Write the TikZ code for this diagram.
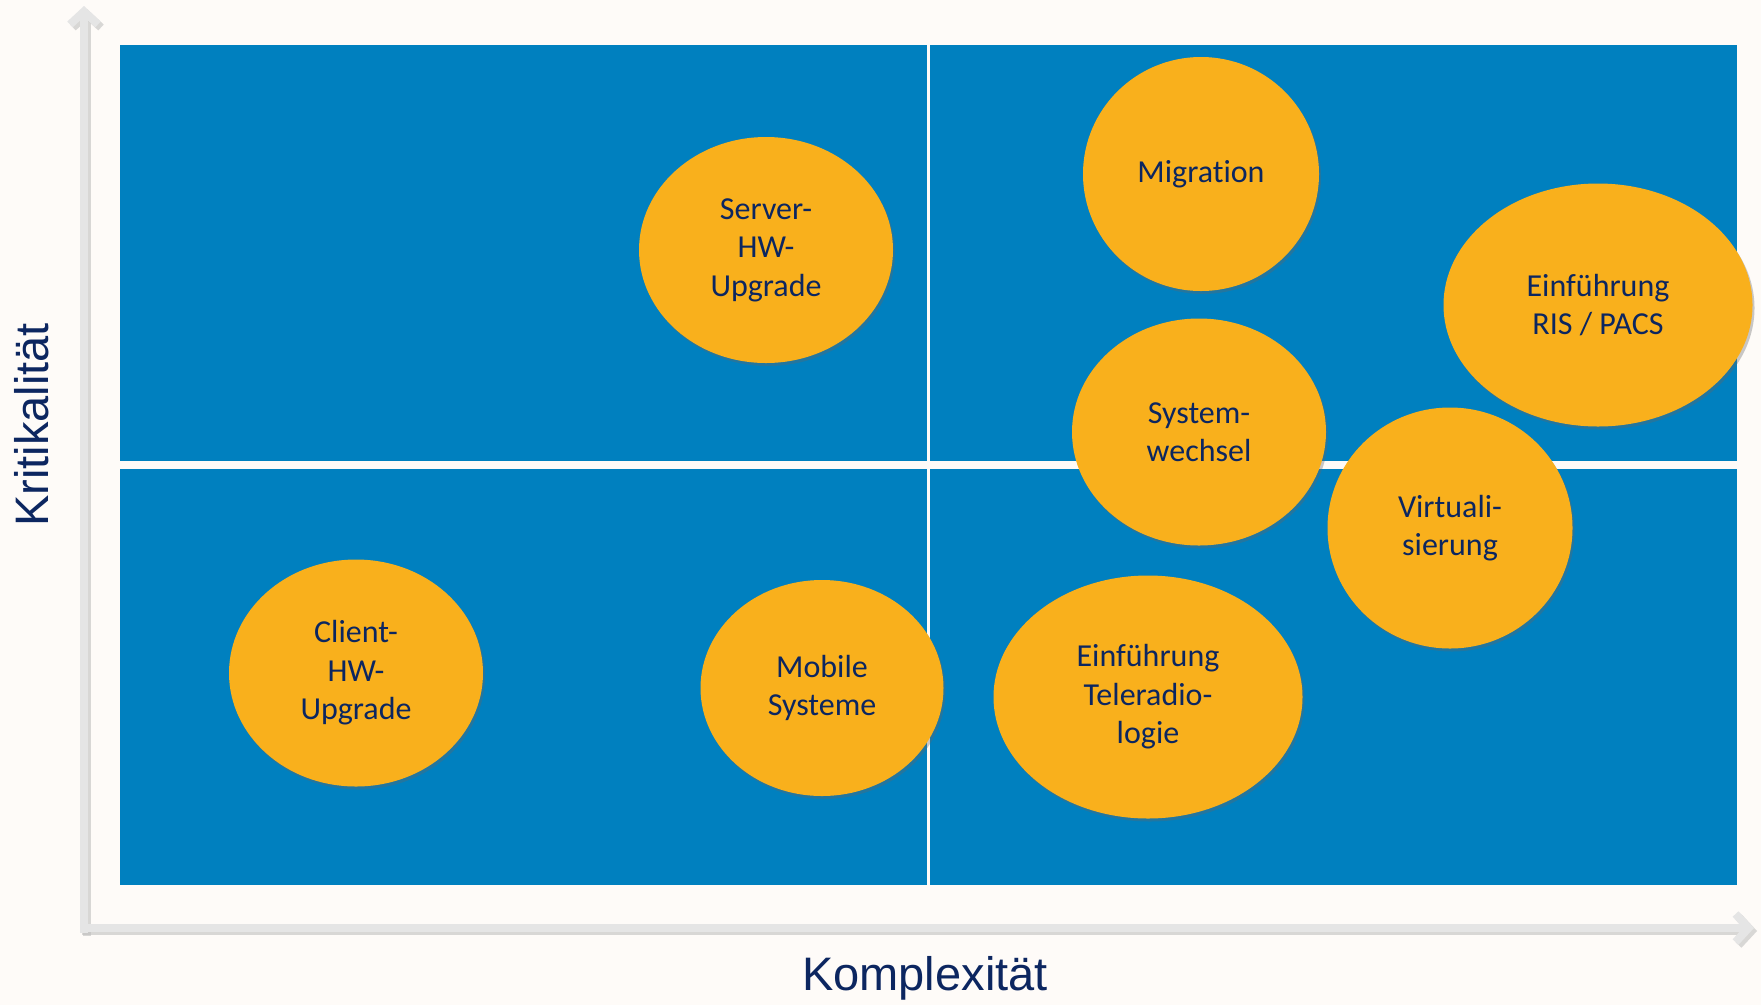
\documentclass[tikz,border=0pt]{standalone}
\usepackage{fontspec}
\setmainfont{Carlito}[Ligatures=NoCommon]
\newfontfamily\axisfont{Liberation Sans}
\usetikzlibrary{arrows.meta,shadows,shapes.geometric}
\definecolor{bgcol}{RGB}{254,251,248}
\definecolor{quadblue}{RGB}{0,128,191}
\definecolor{bubble}{RGB}{249,176,28}
\definecolor{navy}{RGB}{12,38,96}
\definecolor{axisgrey}{RGB}{229,229,229}
\tikzset{
  bubblenode/.style={ellipse, fill=bubble, text=navy, align=center, inner sep=0pt,
    font=\fontsize{32}{38.5}\selectfont,
    drop shadow={shadow xshift=2pt, shadow yshift=-3pt, opacity=0.35, fill=black!60}},
  axisline/.style={line width=8pt, color=axisgrey, -{Straight Barb[length=13pt,width=28pt]}},
  axislabel/.style={text=navy, font=\axisfont\fontsize{47}{50}\selectfont}
}

\begin{document}
\begin{tikzpicture}[x=1pt, y=-1pt]
			%%%%% START %%%%%
			
			\useasboundingbox (0, 0) rectangle (1761, 1005);
			\fill[bgcol] (0, 0) rectangle (1761, 1005);
			
			% axes
			\draw[axisline, color=black!25, opacity=0.6] (87, 936) -- (87, 9);
			\draw[axisline, color=black!25, opacity=0.6] (82, 931) -- (1757, 931);
			\draw[axisline] (84, 933) -- (84, 6);
			\draw[axisline] (80, 928) -- (1754, 928);
			
			% quadrants
			\fill[quadblue] (120, 45) rectangle (927, 461);
			\fill[quadblue] (930, 45) rectangle (1737, 461);
			\fill[quadblue] (120, 469) rectangle (927, 885);
			\fill[quadblue] (930, 469) rectangle (1737, 885);
			
			% bubbles
			\node[bubblenode, minimum width=254, minimum height=226] (srvupg) at (766, 250) {Server-\\HW-\\Upgrade};
			\node[bubblenode, minimum width=236, minimum height=234] (migration) at (1201, 174) {Migration};
			\node[bubblenode, minimum width=309, minimum height=243] (rispacs) at (1598, 305) {Einführung\\RIS / PACS};
			\node[bubblenode, minimum width=245, minimum height=241] (virt) at (1450, 528) {Virtuali-\\sierung};
			\node[bubblenode, minimum width=254, minimum height=227] (syswechsel) at (1199, 432) {System-\\wechsel};
			\node[bubblenode, minimum width=254, minimum height=227] (clientupg) at (356, 673) {Client-\\HW-\\Upgrade};
			\node[bubblenode, minimum width=243, minimum height=216] (mobile) at (822, 688) {Mobile\\Systeme};
			\node[bubblenode, minimum width=309, minimum height=243] (telerad) at (1148, 697) {Einführung\\Teleradio-\\logie};
			
			% axis labels
			\node[axislabel, rotate=90] (ylabel) at (32, 425) {Kritikalität};
			\node[axislabel] (xlabel) at (925, 978) {Komplexität};
			
			%%%%% END %%%%%
\end{tikzpicture}
\end{document}
